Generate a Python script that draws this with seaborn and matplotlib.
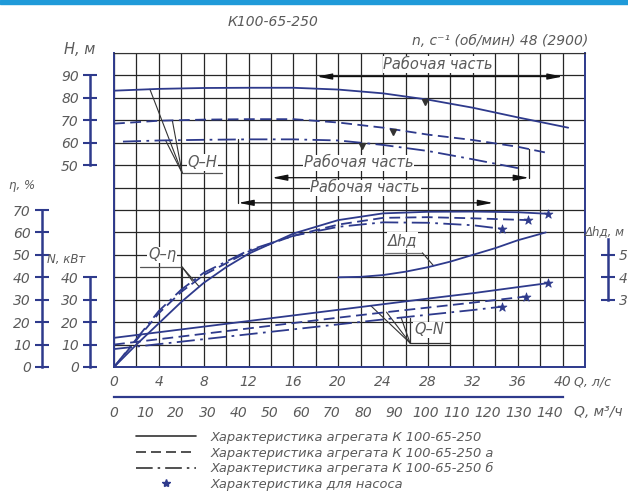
import numpy as np
import matplotlib
matplotlib.use("Agg")
import matplotlib.pyplot as plt
import seaborn as sns
from matplotlib.lines import Line2D
from matplotlib.patches import Rectangle

# ---- data (Q in l/s) ----
# Q-H, m
q_h = [0, 2, 4, 8, 12, 16, 20, 24, 28, 32, 36, 40.5]
h_main = [83.2, 83.6, 84, 84.4, 84.5, 84.5, 83.7, 82, 79.2, 75.6, 71.3, 66.7]
q_h_a = [0, 4, 8, 12, 16, 20, 24, 28, 32, 36, 38.6]
h_a = [68.5, 69.8, 70.3, 70.5, 70.5, 69, 66.7, 63.6, 61.2, 58.2, 55.5]
q_h_b = [0.8, 4, 8, 12, 16, 20, 24, 28, 32, 36.5]
h_b = [60.5, 61, 61.3, 61.5, 61.5, 61, 59, 56.3, 52.6, 48.2]

# Q-eta, %
q_eta = [0, 2, 4, 6, 8, 10, 12, 16, 20, 24, 28, 32, 36, 38.7]
eta_main = [0, 10, 19.5, 29, 37.5, 44.5, 50.5, 59.5, 65.5, 68.5, 69.2, 69.3, 69, 68.3]
q_eta_a = [0, 2, 4, 6, 8, 12, 16, 20, 24, 28, 32, 36.9]
eta_a = [0, 12, 24, 33.5, 41, 51.5, 58.5, 63.5, 66.5, 66.8, 66.3, 65.5]
q_eta_b = [0, 2, 4, 6, 8, 12, 16, 20, 24, 28, 32, 34.6]
eta_b = [0, 12.5, 25, 34.5, 42, 52, 58.5, 62.5, 64.5, 64.3, 63.2, 61.6]

# Q-N, kW
q_n = [0, 4, 8, 12, 16, 20, 24, 28, 32, 36, 38.7]
n_main = [13, 15.5, 18, 20.5, 23, 25.5, 28, 30.5, 32.9, 35.6, 37.4]
q_n_a = [0, 4, 8, 12, 16, 20, 24, 28, 32, 36.7]
n_a = [10, 12.4, 14.8, 17.2, 19.6, 22, 24.3, 26.5, 28.7, 31.4]
q_n_b = [0, 4, 8, 12, 16, 20, 24, 28, 32, 34.6]
n_b = [8, 10.2, 12.4, 14.6, 16.8, 19, 21.2, 23.3, 25.4, 26.9]

# Q-dh, m
q_dh = [20, 22, 24, 26, 28, 30, 32, 34, 36, 38.5]
dh = [4.0, 4.02, 4.1, 4.25, 4.45, 4.7, 5.0, 5.3, 5.65, 6.0]

# working ranges (l/s) and nominal points on Q-H
range_start = [18.1, 14.1, 11.1]
range_end = [40, 37.0, 33.8]
nominal_q = [27.7, 24.9, 22.1]

q_ticks = list(range(0, 41, 4))
m3h_ticks = list(range(0, 141, 10))
legend_labels = ["Характеристика агрегата К 100-65-250",
                 "Характеристика агрегата К 100-65-250 а",
                 "Характеристика агрегата К 100-65-250 б",
                 "Характеристика для насоса"]

sns.set_style("white")
plt.rcParams['font.family'] = ['DejaVu Sans']

navy = '#2e3a8c'
gridc = '#262626'
txtc = '#5a5a5a'
styles = ['-', (0, (6, 3)), (0, (10, 3, 1.5, 3))]
TXT = dict(color=txtc, fontstyle='italic')

W_PX, H_PX = 628, 496
def fx(x): return x / W_PX
def fy(y): return 1 - y / H_PX

fig = plt.figure(figsize=(6.28, 4.96), dpi=100)
fig.patches.append(Rectangle((0, fy(4)), 1, 4 / H_PX, transform=fig.transFigure,
                             color='#1f9ad9', zorder=0))

L, B, W, H = fx(114), fy(367), 471 / W_PX, 314 / H_PX
ax = fig.add_axes([L, B, W, H])

axH = ax.twinx()
axE = ax.twinx()
axN = ax.twinx()
axD = ax.twinx()

# curves
for q, v, ls in zip([q_h, q_h_a, q_h_b], [h_main, h_a, h_b], styles):
    sns.lineplot(x=q, y=v, ax=axH, color=navy, lw=1.3, linestyle=ls)
for q, v, ls in zip([q_eta, q_eta_a, q_eta_b], [eta_main, eta_a, eta_b], styles):
    sns.lineplot(x=q, y=v, ax=axE, color=navy, lw=1.3, linestyle=ls)
for q, v, ls in zip([q_n, q_n_a, q_n_b], [n_main, n_a, n_b], styles):
    sns.lineplot(x=q, y=v, ax=axN, color=navy, lw=1.3, linestyle=ls)
sns.lineplot(x=q_dh, y=dh, ax=axD, color=navy, lw=1.3)

# pump points (stars) at the ends of eta and N curves
sns.scatterplot(x=[q_eta[-1], q_eta_a[-1], q_eta_b[-1]],
                y=[eta_main[-1], eta_a[-1], eta_b[-1]], ax=axE,
                marker='*', s=45, color=navy, edgecolor=navy, zorder=5)
sns.scatterplot(x=[q_n[-1], q_n_a[-1], q_n_b[-1]],
                y=[n_main[-1], n_a[-1], n_b[-1]], ax=axN,
                marker='*', s=45, color=navy, edgecolor=navy, zorder=5)

# nominal point marks on Q-H
h_curves = [(q_h, h_main), (q_h_a, h_a), (q_h_b, h_b)]
for (q, v), qn in zip(h_curves, nominal_q):
    axH.plot([qn], [np.interp(qn, q, v) - 1.3], marker='v', ms=5, color='#333')

# main grid axes (grid units: 14 rows)
ax.set_xlim(0, 42)
ax.set_ylim(0, 14)
ax.set_xticks(q_ticks)
ax.set_xticks(range(2, 43, 4), minor=True)
ax.set_xticklabels([str(t) for t in q_ticks])
ax.set_yticks(range(15))
ax.tick_params(axis='y', length=0, labelleft=False, labelright=False)
ax.tick_params(axis='x', which='major', direction='in', length=6, width=1.2,
               color=navy, pad=6, labelsize=10, labelcolor=txtc)
ax.tick_params(axis='x', which='minor', length=0)
for lab in ax.get_xticklabels():
    lab.set_fontstyle('italic')
ax.grid(True, which='both', color=gridc, lw=0.9)
ax.set_axisbelow(True)
for s in ['left', 'bottom', 'right']:
    ax.spines[s].set_color(navy)
    ax.spines[s].set_linewidth(1.4)
ax.spines['top'].set_color('#333')


def scale_axis(a, lim, ticks, pos, side='left', bounds=None):
    a.set_ylim(*lim)
    for s in a.spines.values():
        s.set_visible(False)
    sp = a.spines[side]
    sp.set_visible(True)
    sp.set_position(('axes', pos))
    sp.set_color(navy)
    sp.set_linewidth(1.8)
    sp.set_bounds(*(bounds if bounds else (ticks[0], ticks[-1])))
    if side == 'left':
        a.yaxis.set_ticks_position('left')
    else:
        a.yaxis.set_ticks_position('right')
    a.set_yticks(ticks)
    a.set_yticklabels([str(t) for t in ticks])
    a.tick_params(axis='y', direction='inout', length=10, width=1.5, color=navy,
                  pad=3, labelsize=10, labelcolor=txtc)
    for lab in a.get_yticklabels():
        lab.set_fontstyle('italic')
    a.set_ylabel('')
    a.set_xlabel('')


scale_axis(axH, (-40, 100), [50, 60, 70, 80, 90], (90 - 114) / 471)
scale_axis(axE, (0, 140), [0, 10, 20, 30, 40, 50, 60, 70], (42 - 114) / 471)
scale_axis(axN, (0, 140), [0, 10, 20, 30, 40], (90 - 114) / 471)
scale_axis(axD, (0, 14), [3, 4, 5], (608 - 114) / 471, side='right', bounds=(3, 5.7))
ax.set_xlim(0, 42)
ax.set_xlabel('')

# m3/h axis
axQ = fig.add_axes([L, fy(397), W, 0.001])
axQ.set_xlim(0, 42 * 3.6)
axQ.patch.set_visible(False)
for s in axQ.spines.values():
    s.set_visible(False)
axQ.spines['bottom'].set_visible(True)
axQ.spines['bottom'].set_color(navy)
axQ.spines['bottom'].set_linewidth(1.6)
axQ.spines['bottom'].set_bounds(0, 144)
axQ.set_yticks([])
axQ.set_xticks(m3h_ticks)
axQ.set_xticklabels([str(t) for t in m3h_ticks])
axQ.tick_params(axis='x', direction='inout', length=9, width=1.3, color=navy,
                pad=2, labelsize=10, labelcolor=txtc)
for lab in axQ.get_xticklabels():
    lab.set_fontstyle('italic')

# working range lines
range_y = [12.95, 8.44, 7.32]
range_text = [(28.9, 13.48), (21.8, 9.1), (22.4, 7.99)]
for q0, q1, yl, (tx, ty) in zip(range_start, range_end, range_y, range_text):
    ax.annotate('', xy=(q1, yl), xytext=(q0, yl),
                arrowprops=dict(arrowstyle='<|-|>,head_length=0.9,head_width=0.18',
                                color='#111', lw=0.9, shrinkA=0, shrinkB=0))
    ax.text(tx, ty, 'Рабочая часть', ha='center', va='center', fontsize=10.5,
            bbox=dict(fc='white', ec='none', pad=0.5), zorder=4, **TXT)


def h_grid(hval):
    return (hval - 50) / 10 + 9


# verticals tying ranges to curves
ax.plot([range_start[2]] * 2, [h_grid(np.interp(range_start[2], q_h_b, h_b)), range_y[2]],
        color='#222', lw=0.9)
ax.plot([range_end[1]] * 2, [h_grid(np.interp(range_end[1], q_h_a, h_a)), range_y[1]],
        color='#222', lw=0.9)

# Q-H label with leaders
qh_corner = (6.07, 8.66)
ax.plot([qh_corner[0], 9.64], [qh_corner[1]] * 2, color='#555', lw=0.9)
for (q, v), qt in zip(h_curves, [3.2, 5.2, 4.6]):
    ax.plot([qh_corner[0], qt], [qh_corner[1], h_grid(np.interp(qt, q, v))],
            color='#333', lw=0.8)
ax.text(7.9, 9.12, 'Q–H', ha='center', va='center', fontsize=10.5,
        bbox=dict(fc='white', ec='none', pad=0.5), zorder=4, **TXT)

# Q-eta label
qe_corner = (6.07, 4.46)
ax.plot([2.3, qe_corner[0]], [qe_corner[1]] * 2, color='#555', lw=0.9)
for (q, v), qt in zip([(q_eta, eta_main), (q_eta_a, eta_a), (q_eta_b, eta_b)], [7.6, 6.07, 7.0]):
    ax.plot([qe_corner[0], qt], [qe_corner[1], np.interp(qt, q, v) / 10],
            color='#333', lw=0.8)
ax.text(4.3, 5.0, 'Q–η', ha='center', va='center', fontsize=10.5,
        bbox=dict(fc='white', ec='none', pad=0.5), zorder=4, **TXT)

# dh label
ax.plot([24.2, 27.5], [5.09, 5.09], color='#777', lw=0.9)
ax.plot([27.5, 28.5], [5.09, np.interp(28.5, q_dh, dh)], color='#333', lw=0.8)
ax.text(25.7, 5.63, 'Δhд', ha='center', va='center', fontsize=10.5,
        bbox=dict(fc='white', ec='none', pad=0.5), zorder=4, **TXT)

# Q-N label
qn_corner = (26.4, 1.07)
ax.plot([qn_corner[0], 30.0], [qn_corner[1]] * 2, color='#333', lw=0.9)
ax.plot([qn_corner[0]] * 2, [qn_corner[1], 2.2], color='#333', lw=0.9)
for (q, v), qt in zip([(q_n, n_main), (q_n_a, n_a), (q_n_b, n_b)], [22.9, 24.3, 25.6]):
    ax.plot([qn_corner[0], qt], [qn_corner[1], np.interp(qt, q, v) / 10],
            color='#333', lw=0.8)
ax.text(28.1, 1.65, 'Q–N', ha='center', va='center', fontsize=10.5,
        bbox=dict(fc='white', ec='none', pad=0.5), zorder=4, **TXT)

# scale captions and titles
fig.text(fx(273), fy(22), 'К100-65-250', ha='center', va='center', fontsize=10, **TXT)
fig.text(fx(588), fy(41), 'n, c⁻¹ (об/мин) 48 (2900)', ha='right', va='center',
         fontsize=10, **TXT)
fig.text(fx(80), fy(50), 'H, м', ha='center', va='center', fontsize=10.5, **TXT)
fig.text(fx(22), fy(185), 'η, %', ha='center', va='center', fontsize=8.5, **TXT)
fig.text(fx(66), fy(260), 'N, кВт', ha='center', va='center', fontsize=8.5, **TXT)
fig.text(fx(605), fy(232), 'Δhд, м', ha='center', va='center', fontsize=8.5, **TXT)
fig.text(fx(574), fy(382), 'Q, л/с', ha='left', va='center', fontsize=9, **TXT)
fig.text(fx(574), fy(412), 'Q, м³/ч', ha='left', va='center', fontsize=10, **TXT)

# legend
handles = [Line2D([], [], color='#333', lw=1.2, linestyle=ls) for ls in styles]
handles.append(Line2D([], [], ls='none', marker='*', ms=6, color=navy))
fig.legend(handles, legend_labels, loc='upper left',
           bbox_to_anchor=(fx(136), fy(431)), frameon=False,
           prop=dict(style='italic', size=9.4), labelcolor=txtc,
           labelspacing=0.2, handlelength=4.6, handletextpad=1.1,
           borderpad=0, borderaxespad=0)

fig.savefig('out.png', dpi=100, facecolor='white')
